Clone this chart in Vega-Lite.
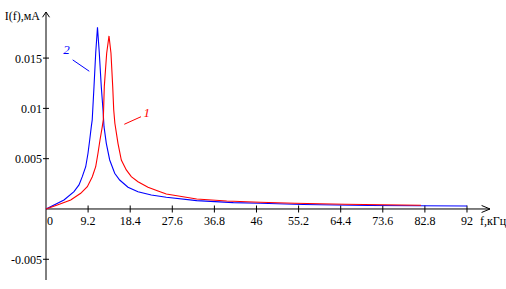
{
  "$schema": "https://vega.github.io/schema/vega-lite/v6.json",
  "width": 444,
  "height": 268,
  "autosize": {"type": "none"},
  "padding": {"left": 46, "top": 12, "right": 16, "bottom": 9},
  "background": "white",
  "view": {"stroke": null},
  "encoding": {
    "x": {"field": "f", "type": "quantitative", "scale": {"domain": [0, 97.03], "nice": false, "zero": false}, "axis": null},
    "y": {"field": "I", "type": "quantitative", "scale": {"domain": [-0.00706, 0.01958], "nice": false, "zero": false}, "axis": null}
  },
  "layer": [
    {
      "data": {"values": [
        {"f": 0, "I": -0.00706, "f2": 0, "I2": 0.01958},
        {"f": 0, "I": 0, "f2": 97.03, "I2": 0}
      ]},
      "mark": {"type": "rule", "color": "black", "strokeWidth": 1},
      "encoding": {"x2": {"field": "f2"}, "y2": {"field": "I2"}}
    },
    {
      "data": {"values": [
        {"f": 9.2, "I": 0, "lab": "9.2"}, {"f": 18.4, "I": 0, "lab": "18.4"},
        {"f": 27.6, "I": 0, "lab": "27.6"}, {"f": 36.8, "I": 0, "lab": "36.8"},
        {"f": 46, "I": 0, "lab": "46"}, {"f": 55.2, "I": 0, "lab": "55.2"},
        {"f": 64.4, "I": 0, "lab": "64.4"}, {"f": 73.6, "I": 0, "lab": "73.6"},
        {"f": 82.8, "I": 0, "lab": "82.8"}, {"f": 92, "I": 0, "lab": "92"}
      ]},
      "layer": [
        {"mark": {"type": "tick", "orient": "vertical", "size": 7, "thickness": 1, "color": "black", "opacity": 1}},
        {"mark": {"type": "text", "font": "Liberation Serif", "fontSize": 12, "align": "center", "baseline": "alphabetic", "dy": 16, "color": "black"},
         "encoding": {"text": {"field": "lab"}}}
      ]
    },
    {
      "data": {"values": [{"f": 0, "I": 0, "lab": "0"}]},
      "mark": {"type": "text", "font": "Liberation Serif", "fontSize": 12, "align": "left", "baseline": "alphabetic", "dx": 1, "dy": 16, "color": "black"},
      "encoding": {"text": {"field": "lab"}}
    },
    {
      "data": {"values": [
        {"f": 0, "I": -0.005, "lab": "-0.005"}, {"f": 0, "I": 0.005, "lab": "0.005"},
        {"f": 0, "I": 0.01, "lab": "0.01"}, {"f": 0, "I": 0.015, "lab": "0.015"}
      ]},
      "layer": [
        {"mark": {"type": "tick", "orient": "horizontal", "size": 6, "thickness": 1, "color": "black", "opacity": 1}},
        {"mark": {"type": "text", "font": "Liberation Serif", "fontSize": 12, "align": "right", "baseline": "alphabetic", "dx": -4, "dy": 4.5, "color": "black"},
         "encoding": {"text": {"field": "lab"}}}
      ]
    },
    {
      "data": {"values": [{"f": 0, "I": 0.01958}]},
      "mark": {"type": "point", "shape": "M-1,1.5L0,0L1,1.5", "size": 49, "filled": false, "stroke": "black", "strokeWidth": 1, "opacity": 1}
    },
    {
      "data": {"values": [{"f": 97.03, "I": 0}]},
      "mark": {"type": "point", "shape": "M-2.4,-1L0,0L-2.4,1", "size": 49, "filled": false, "stroke": "black", "strokeWidth": 1, "opacity": 1}
    },
    {
      "data": {"values": [{"f": 0, "I": 0.01958, "lab": "I(f),мА"}]},
      "mark": {"type": "text", "font": "Liberation Serif", "fontSize": 12, "align": "right", "baseline": "alphabetic", "dx": -6, "dy": 7.5, "color": "black"},
      "encoding": {"text": {"field": "lab"}}
    },
    {
      "data": {"values": [{"f": 97.03, "I": 0, "lab": "f,кГц"}]},
      "mark": {"type": "text", "font": "Liberation Serif", "fontSize": 12, "align": "left", "baseline": "alphabetic", "dx": -10, "dy": 16, "color": "black"},
      "encoding": {"text": {"field": "lab"}}
    },
    {
      "data": {"values": [
        {"s": "2", "f": 0, "I": 0}, {"s": "2", "f": 1.75, "I": 0.0004}, {"s": "2", "f": 3.93, "I": 0.00089},
        {"s": "2", "f": 6.12, "I": 0.00172}, {"s": "2", "f": 7.21, "I": 0.00239}, {"s": "2", "f": 7.93, "I": 0.00321},
        {"s": "2", "f": 8.68, "I": 0.0042}, {"s": "2", "f": 9.18, "I": 0.00554}, {"s": "2", "f": 9.55, "I": 0.00686},
        {"s": "2", "f": 9.9, "I": 0.00818}, {"s": "2", "f": 10.1, "I": 0.00885}, {"s": "2", "f": 10.49, "I": 0.01216},
        {"s": "2", "f": 10.86, "I": 0.01548}, {"s": "2", "f": 11.25, "I": 0.01806}, {"s": "2", "f": 11.65, "I": 0.01548},
        {"s": "2", "f": 12.08, "I": 0.01216}, {"s": "2", "f": 12.46, "I": 0.00984}, {"s": "2", "f": 12.68, "I": 0.00818},
        {"s": "2", "f": 13.18, "I": 0.00653}, {"s": "2", "f": 13.92, "I": 0.00487}, {"s": "2", "f": 15.01, "I": 0.00355},
        {"s": "2", "f": 16.1, "I": 0.00288}, {"s": "2", "f": 17.92, "I": 0.00216}, {"s": "2", "f": 20.1, "I": 0.00172},
        {"s": "2", "f": 23.01, "I": 0.00139}, {"s": "2", "f": 26.29, "I": 0.00116}, {"s": "2", "f": 32.93, "I": 0.00083},
        {"s": "2", "f": 40.93, "I": 0.00063}, {"s": "2", "f": 46.77, "I": 0.00057}, {"s": "2", "f": 56.16, "I": 0.00045},
        {"s": "2", "f": 70.59, "I": 0.00035}, {"s": "2", "f": 92, "I": 0.0003},
        {"s": "1", "f": 0, "I": 0}, {"s": "1", "f": 2.47, "I": 0.0004}, {"s": "1", "f": 5.4, "I": 0.00089},
        {"s": "1", "f": 7.58, "I": 0.00156}, {"s": "1", "f": 9.03, "I": 0.00222}, {"s": "1", "f": 10.12, "I": 0.00321},
        {"s": "1", "f": 10.86, "I": 0.0042}, {"s": "1", "f": 11.36, "I": 0.00554}, {"s": "1", "f": 11.8, "I": 0.00686},
        {"s": "1", "f": 12.3, "I": 0.00818}, {"s": "1", "f": 12.52, "I": 0.00885}, {"s": "1", "f": 12.74, "I": 0.01216},
        {"s": "1", "f": 13.26, "I": 0.01548}, {"s": "1", "f": 13.77, "I": 0.0172}, {"s": "1", "f": 14.2, "I": 0.01548},
        {"s": "1", "f": 14.58, "I": 0.01216}, {"s": "1", "f": 14.8, "I": 0.00984}, {"s": "1", "f": 15.05, "I": 0.00852},
        {"s": "1", "f": 15.73, "I": 0.00653}, {"s": "1", "f": 16.46, "I": 0.00487}, {"s": "1", "f": 17.55, "I": 0.00388},
        {"s": "1", "f": 18.64, "I": 0.00321}, {"s": "1", "f": 20.1, "I": 0.00271}, {"s": "1", "f": 22.29, "I": 0.00216},
        {"s": "1", "f": 24.48, "I": 0.00179}, {"s": "1", "f": 26.29, "I": 0.00149}, {"s": "1", "f": 32.93, "I": 0.00099},
        {"s": "1", "f": 39.49, "I": 0.0008}, {"s": "1", "f": 46.77, "I": 0.00067}, {"s": "1", "f": 54.4, "I": 0.00057},
        {"s": "1", "f": 65.34, "I": 0.00047}, {"s": "1", "f": 81.95, "I": 0.00037}
      ]},
      "mark": {"type": "line", "strokeWidth": 1.1},
      "encoding": {
        "color": {"field": "s", "type": "nominal", "scale": {"domain": ["1", "2"], "range": ["#ff0000", "#0000ff"]}, "legend": null}
      }
    },
    {
      "data": {"values": [
        {"s": "2", "f": 5.83, "I": 0.01482, "f2": 9.46, "I2": 0.01369},
        {"s": "1", "f": 17.11, "I": 0.00842, "f2": 20.76, "I2": 0.00917}
      ]},
      "mark": {"type": "rule", "strokeWidth": 1},
      "encoding": {
        "x2": {"field": "f2"}, "y2": {"field": "I2"},
        "color": {"field": "s", "type": "nominal", "scale": {"domain": ["1", "2"], "range": ["#ff0000", "#0000ff"]}, "legend": null}
      }
    },
    {
      "data": {"values": [
        {"s": "2", "f": 4.48, "I": 0.0158, "lab": "2"},
        {"s": "1", "f": 22.0, "I": 0.00957, "lab": "1"}
      ]},
      "mark": {"type": "text", "font": "Liberation Serif", "align": "center", "baseline": "middle", "fontSize": 13, "fontStyle": "italic"},
      "encoding": {
        "text": {"field": "lab"},
        "color": {"field": "s", "type": "nominal", "scale": {"domain": ["1", "2"], "range": ["#ff0000", "#0000ff"]}, "legend": null}
      }
    }
  ]
}
